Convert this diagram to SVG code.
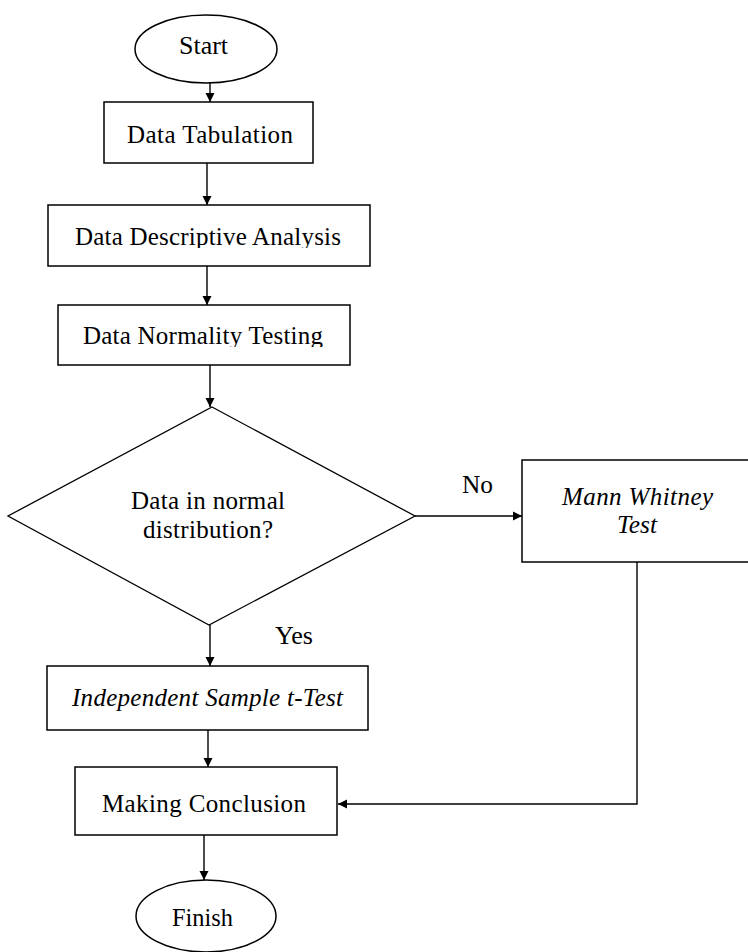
<svg xmlns="http://www.w3.org/2000/svg" width="748" height="952" viewBox="0 0 748 952">
<style>
.s{fill:#fff;stroke:#000;stroke-width:1.5}
.t{font-family:"Liberation Serif","Times New Roman",Times,serif;font-size:25px;fill:#000}
.i{font-style:italic}
.c{fill:none;stroke:#000;stroke-width:1.4}
</style>
<defs>
<marker id="ah" markerWidth="10" markerHeight="10" refX="9" refY="5" orient="auto" markerUnits="userSpaceOnUse">
<path d="M0,0.5 L9,5 L0,9.5 Z" fill="#000"/>
</marker>
<clipPath id="clipDesc"><rect x="48" y="205" width="322" height="43"/></clipPath>
<clipPath id="clipNorm"><rect x="58" y="305" width="292" height="42"/></clipPath>
</defs>
<rect width="748" height="952" fill="#fff"/>
<g id="connectors">
<line class="c" x1="210" y1="83" x2="210" y2="102" marker-end="url(#ah)"/>
<line class="c" x1="207" y1="163" x2="207" y2="205" marker-end="url(#ah)"/>
<line class="c" x1="207" y1="266" x2="207" y2="305" marker-end="url(#ah)"/>
<line class="c" x1="210" y1="365" x2="210" y2="407" marker-end="url(#ah)"/>
<line class="c" x1="210" y1="625" x2="210" y2="666" marker-end="url(#ah)"/>
<line class="c" x1="208" y1="730" x2="208" y2="767" marker-end="url(#ah)"/>
<line class="c" x1="204" y1="835" x2="204" y2="880" marker-end="url(#ah)"/>
<line class="c" x1="415" y1="516" x2="522" y2="516" marker-end="url(#ah)"/>
<polyline class="c" points="637,562 637,804 338,804" marker-end="url(#ah)"/>
<text class="t" x="462" y="493" textLength="31" lengthAdjust="spacingAndGlyphs">No</text>
<text class="t" x="275" y="644" textLength="38" lengthAdjust="spacingAndGlyphs">Yes</text>
</g>
<g id="start">
<ellipse class="s" cx="206" cy="49" rx="71" ry="34"/>
<text class="t" x="179" y="54" textLength="49" lengthAdjust="spacingAndGlyphs">Start</text>
</g>
<g id="tabulation">
<rect class="s" x="104" y="102" width="209" height="61"/>
<text class="t" x="127" y="143" textLength="166" lengthAdjust="spacing">Data Tabulation</text>
</g>
<g id="descriptive">
<rect class="s" x="48" y="205" width="322" height="61"/>
<text class="t" x="75" y="245" textLength="266" lengthAdjust="spacing" clip-path="url(#clipDesc)">Data Descriptive Analysis</text>
</g>
<g id="normality">
<rect class="s" x="58" y="305" width="292" height="60"/>
<text class="t" x="83" y="344" textLength="240" lengthAdjust="spacing" clip-path="url(#clipNorm)">Data Normality Testing</text>
</g>
<g id="decision">
<polygon class="s" points="212,407 415,516 209,625 8,516" style="stroke-width:1.3"/>
<text class="t" x="131" y="509" textLength="154" lengthAdjust="spacing">Data in normal</text>
<text class="t" x="143" y="538" textLength="130" lengthAdjust="spacing">distribution?</text>
</g>
<g id="mann">
<rect class="s" x="522" y="460" width="232" height="102"/>
<text class="t i" x="562" y="505" textLength="151" lengthAdjust="spacing">Mann Whitney</text>
<text class="t i" x="617" y="533" textLength="40" lengthAdjust="spacingAndGlyphs">Test</text>
</g>
<g id="ttest">
<rect class="s" x="47" y="666" width="321" height="64"/>
<text class="t i" x="72" y="706" textLength="271" lengthAdjust="spacing">Independent Sample t-Test</text>
</g>
<g id="conclusion">
<rect class="s" x="75" y="767" width="262" height="68"/>
<text class="t" x="102" y="812" textLength="204" lengthAdjust="spacing">Making Conclusion</text>
</g>
<g id="finish">
<ellipse class="s" cx="206" cy="916" rx="70" ry="36"/>
<text class="t" x="172" y="926" textLength="61" lengthAdjust="spacingAndGlyphs">Finish</text>
</g>
</svg>
